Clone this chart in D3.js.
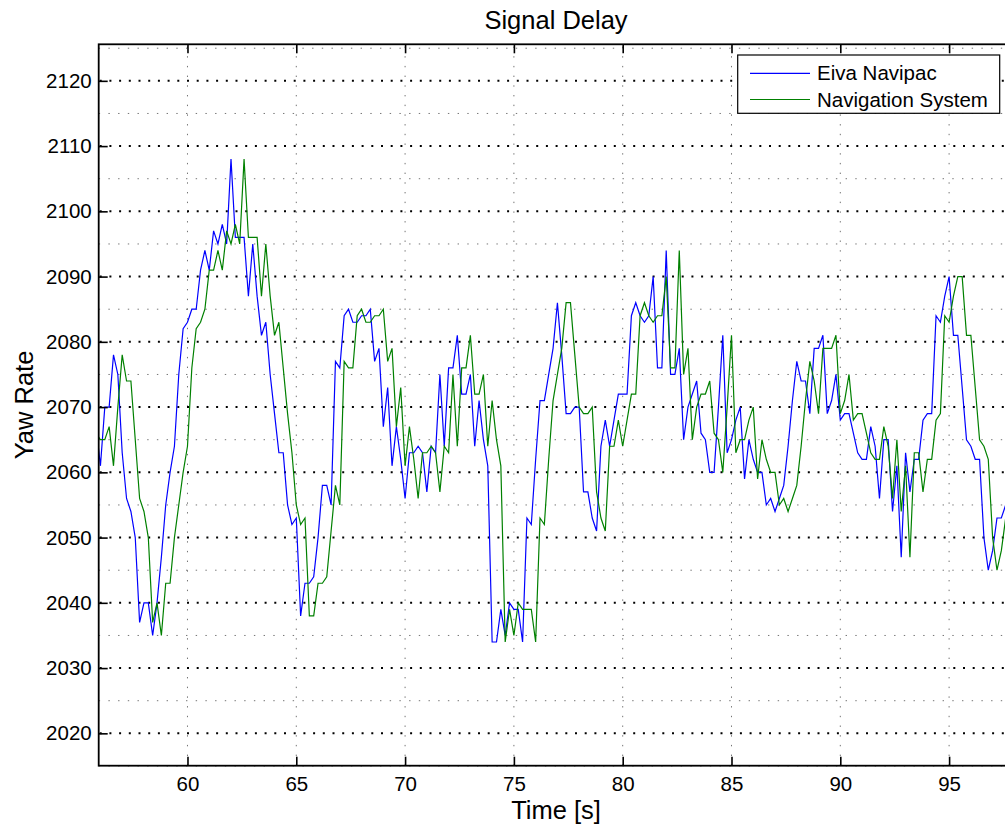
<!DOCTYPE html>
<html>
<head>
<meta charset="utf-8">
<script src="https://cdn.jsdelivr.net/npm/d3@7"></script>
<style>
  html, body { margin: 0; padding: 0; background: #fff; }
  svg { display: block; font-family: "Liberation Sans", Arial, Helvetica, sans-serif; }
</style>
</head>
<body>
<svg id="chart" width="1005" height="827"></svg>
<script>
// Both receivers are logged on the same 5 Hz sample clock.
const sampleStart = 55.8;   // s
const samplePeriod = 0.2;   // s

const seriesNames = ["Eiva Navipac", "Navigation System"];
const seriesColors = ["#0000ff", "#008000"];

// Yaw rate, one row per second of log (first value is the 55.8 s sample)
const eivaNavipac = [
  2067,
  2061, 2070, 2070, 2078, 2075,
  2063, 2056, 2054, 2050, 2037,
  2040, 2040, 2035, 2040, 2047,
  2055, 2060, 2064, 2075, 2082,
  2083, 2085, 2085, 2091, 2094,
  2091, 2097, 2095, 2098, 2095,
  2108, 2096, 2096, 2096, 2087,
  2095, 2087, 2081, 2083, 2075,
  2069, 2063, 2063, 2055, 2052,
  2053, 2038, 2043, 2043, 2044,
  2050, 2058, 2058, 2055, 2077,
  2076, 2084, 2085, 2083, 2083,
  2084, 2084, 2085, 2077, 2079,
  2067, 2073, 2061, 2067, 2062,
  2056, 2063, 2063, 2064, 2063,
  2057, 2064, 2063, 2075, 2064,
  2076, 2076, 2081, 2072, 2072,
  2075, 2064, 2071, 2065, 2061,
  2034, 2034, 2039, 2035, 2040,
  2039, 2039, 2034, 2053, 2052,
  2062, 2071, 2071, 2075, 2079,
  2086, 2078, 2069, 2069, 2070,
  2070, 2057, 2057, 2053, 2051,
  2064, 2068, 2064, 2068, 2072,
  2072, 2072, 2084, 2086, 2084,
  2083, 2084, 2090, 2076, 2076,
  2094, 2075, 2075, 2079, 2065,
  2070, 2072, 2074, 2066, 2065,
  2060, 2060, 2070, 2081, 2063,
  2065, 2068, 2070, 2059, 2065,
  2062, 2060, 2060, 2055, 2056,
  2054, 2056, 2058, 2064, 2071,
  2077, 2074, 2074, 2069, 2079,
  2079, 2081, 2069, 2071, 2075,
  2068, 2069, 2069, 2066, 2063,
  2062, 2062, 2067, 2064, 2056,
  2065, 2065, 2054, 2061, 2047,
  2063, 2057, 2062, 2062, 2068,
  2069, 2069, 2084, 2083, 2087,
  2090, 2081, 2081, 2073, 2065,
  2064, 2062, 2062, 2050, 2045,
  2048, 2053, 2053, 2055
];

const navigationSystem = [
  2066,
  2065, 2065, 2067, 2061, 2070,
  2078, 2074, 2074, 2065, 2056,
  2054, 2050, 2037, 2040, 2035,
  2043, 2043, 2050, 2055, 2060,
  2064, 2076, 2082, 2083, 2085,
  2091, 2091, 2094, 2091, 2097,
  2095, 2098, 2095, 2108, 2096,
  2096, 2096, 2087, 2095, 2087,
  2081, 2083, 2076, 2069, 2063,
  2055, 2052, 2053, 2038, 2038,
  2043, 2043, 2044, 2051, 2058,
  2055, 2077, 2076, 2076, 2084,
  2085, 2083, 2083, 2084, 2084,
  2085, 2077, 2079, 2067, 2073,
  2061, 2067, 2062, 2056, 2063,
  2063, 2064, 2063, 2057, 2064,
  2063, 2075, 2064, 2076, 2076,
  2081, 2072, 2072, 2075, 2064,
  2071, 2065, 2061, 2034, 2039,
  2035, 2040, 2039, 2039, 2039,
  2034, 2053, 2052, 2062, 2071,
  2075, 2079, 2086, 2086, 2078,
  2070, 2069, 2069, 2070, 2057,
  2053, 2051, 2064, 2064, 2068,
  2064, 2068, 2072, 2072, 2084,
  2086, 2084, 2083, 2084, 2084,
  2090, 2076, 2076, 2094, 2075,
  2079, 2065, 2070, 2072, 2072,
  2074, 2066, 2065, 2060, 2070,
  2081, 2063, 2065, 2065, 2068,
  2070, 2059, 2065, 2062, 2060,
  2060, 2055, 2056, 2054, 2056,
  2058, 2064, 2071, 2077, 2074,
  2069, 2079, 2079, 2079, 2081,
  2069, 2071, 2075, 2068, 2069,
  2069, 2066, 2063, 2062, 2062,
  2067, 2064, 2056, 2065, 2054,
  2061, 2047, 2063, 2063, 2057,
  2062, 2062, 2068, 2069, 2084,
  2083, 2087, 2090, 2090, 2081,
  2081, 2073, 2065, 2064, 2062,
  2050, 2045, 2048, 2053
];

const xTicks = [60, 65, 70, 75, 80, 85, 90, 95];
const xTickLabels = ["60", "65", "70", "75", "80", "85", "90", "95"];
const yTicks = [2020, 2030, 2040, 2050, 2060, 2070, 2080, 2090, 2100, 2110, 2120];
const yTickLabels = ["2020", "2030", "2040", "2050", "2060", "2070", "2080", "2090", "2100", "2110", "2120"];
const yMinorGrid = [2015, 2025, 2035, 2045, 2055, 2065, 2075, 2085, 2095, 2105, 2115, 2125];

const titleText = "Signal Delay";
const xLabelText = "Time [s]";
const yLabelText = "Yaw Rate";

// ---- layout ----
const plot = { left: 98.7, right: 1013.3, top: 44.3, bottom: 765.7 };
const tickLen = 9;
const fontSize = 20.5;
const labelFontSize = 25.5;

const svg = d3.select("#chart");

const x = d3.scaleLinear().domain([55.92, 97.95]).range([plot.left, plot.right]);
const y = d3.scaleLinear().domain([2015.04, 2125.6]).range([plot.bottom, plot.top]);

svg.append("defs").append("clipPath").attr("id", "plotClip")
  .append("rect")
  .attr("x", plot.left).attr("y", plot.top)
  .attr("width", plot.right - plot.left).attr("height", plot.bottom - plot.top);

// ---- grid ----
const grid = svg.append("g").attr("class", "grid");

// vertical grid at the labelled time ticks
grid.selectAll("line.vgrid").data(xTicks).join("line")
  .attr("class", "vgrid")
  .attr("x1", d => x(d)).attr("x2", d => x(d))
  .attr("y1", plot.bottom).attr("y2", plot.top)
  .attr("stroke", "#000").attr("stroke-opacity", 0.55)
  .attr("stroke-width", 1)
  .attr("stroke-dasharray", "1.4,8.3");

// minor horizontal grid (every 5 units)
grid.selectAll("line.hminor").data(yMinorGrid).join("line")
  .attr("class", "hminor")
  .attr("x1", plot.left).attr("x2", plot.right)
  .attr("y1", d => y(d)).attr("y2", d => y(d))
  .attr("stroke", "#000").attr("stroke-opacity", 0.55)
  .attr("stroke-width", 1)
  .attr("stroke-dasharray", "1.4,8.3");

// major horizontal grid (every 10 units, drawn heavier)
grid.selectAll("line.hmajor").data(yTicks).join("line")
  .attr("class", "hmajor")
  .attr("x1", plot.left + 1).attr("x2", plot.right)
  .attr("y1", d => y(d)).attr("y2", d => y(d))
  .attr("stroke", "#000")
  .attr("stroke-width", 2)
  .attr("stroke-dasharray", "2,7.7");

// ---- series ----
const times = eivaNavipac.map((_, i) => sampleStart + i * samplePeriod);
const seriesData = [eivaNavipac, navigationSystem];

const line = d3.line()
  .x((d, i) => x(times[i]))
  .y(d => y(d));

svg.append("g").attr("clip-path", "url(#plotClip)")
  .selectAll("path").data(seriesData).join("path")
  .attr("d", d => line(d))
  .attr("fill", "none")
  .attr("stroke", (d, i) => seriesColors[i])
  .attr("stroke-width", 1.2)
  .attr("stroke-linejoin", "miter");

// ---- axes ----
const axisBottom = d3.axisBottom(x)
  .tickValues(xTicks).tickFormat((d, i) => xTickLabels[i])
  .tickSize(-tickLen).tickPadding(10.5);
const axisTop = d3.axisTop(x)
  .tickValues(xTicks).tickFormat("")
  .tickSize(-tickLen);
const axisLeft = d3.axisLeft(y)
  .tickValues(yTicks).tickFormat((d, i) => yTickLabels[i])
  .tickSize(-tickLen).tickPadding(7);

function styleAxis(g) {
  g.select(".domain").remove();
  g.selectAll(".tick line").attr("stroke", "#000").attr("stroke-width", 1.6);
  g.selectAll(".tick text")
    .attr("fill", "#000")
    .style("font-size", fontSize + "px")
    .style("font-family", '"Liberation Sans", Arial, Helvetica, sans-serif');
}

svg.append("g").attr("transform", `translate(0,${plot.bottom})`).call(axisBottom).call(styleAxis);
svg.append("g").attr("transform", `translate(0,${plot.top})`).call(axisTop).call(styleAxis);
svg.append("g").attr("transform", `translate(${plot.left},0)`).call(axisLeft).call(styleAxis);

// axes frame
svg.append("rect")
  .attr("x", plot.left).attr("y", plot.top)
  .attr("width", plot.right - plot.left).attr("height", plot.bottom - plot.top)
  .attr("fill", "none").attr("stroke", "#000").attr("stroke-width", 1.8);

// ---- labels ----
svg.append("text")
  .attr("x", (plot.left + plot.right) / 2).attr("y", 29)
  .attr("text-anchor", "middle")
  .style("font-size", labelFontSize + "px").attr("fill", "#000")
  .text(titleText);

svg.append("text")
  .attr("x", (plot.left + plot.right) / 2).attr("y", 819)
  .attr("text-anchor", "middle")
  .style("font-size", labelFontSize + "px").attr("fill", "#000")
  .text(xLabelText);

svg.append("text")
  .attr("transform", `translate(33,${(plot.top + plot.bottom) / 2}) rotate(-90)`)
  .attr("text-anchor", "middle")
  .style("font-size", labelFontSize + "px").attr("fill", "#000")
  .text(yLabelText);

// ---- legend ----
const legend = { x: 737.7, y: 55, w: 262, h: 58.3 };
const lg = svg.append("g");
lg.append("rect")
  .attr("x", legend.x).attr("y", legend.y)
  .attr("width", legend.w).attr("height", legend.h)
  .attr("fill", "#fff").attr("stroke", "#000").attr("stroke-width", 1.2);

const rowY = [73.3, 99.5];
seriesNames.forEach((name, i) => {
  lg.append("line")
    .attr("x1", 750).attr("x2", 810)
    .attr("y1", rowY[i]).attr("y2", rowY[i])
    .attr("stroke", seriesColors[i]).attr("stroke-width", 1.2);
  lg.append("text")
    .attr("x", 817).attr("y", rowY[i])
    .attr("dy", "0.35em")
    .style("font-size", fontSize + "px").attr("fill", "#000")
    .text(name);
});
</script>
</body>
</html>
